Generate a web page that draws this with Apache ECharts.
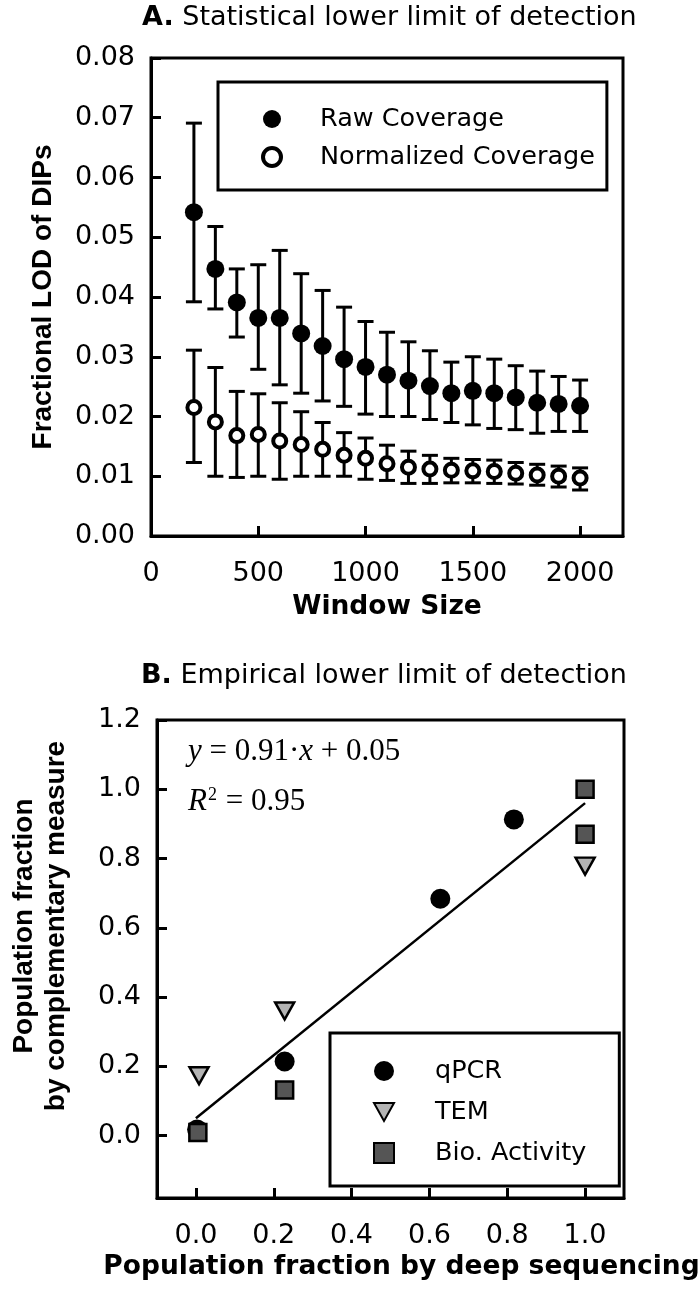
<!DOCTYPE html>
<html><head><meta charset="utf-8">
<script src="https://cdn.jsdelivr.net/npm/echarts@6/dist/echarts.min.js"></script>
<style>html,body{margin:0;padding:0;background:#fff}#c{width:700px;height:1292px}</style>
</head><body><div id="c"></div>
<script>
// ---------- Panel A data ----------
const windowSizes = [200,300,400,500,600,700,800,900,1000,1100,1200,1300,1400,1500,1600,1700,1800,1900,2000];
const rawMean = [0.0542,0.0447,0.0391,0.0365,0.0365,0.0339,0.0318,0.0296,0.0283,0.0270,0.0260,0.0251,0.0239,0.0243,0.0239,0.0232,0.0223,0.0221,0.0218];
const rawLow  = [0.0392,0.0380,0.0333,0.0279,0.0253,0.0239,0.0226,0.0217,0.0204,0.0200,0.0200,0.0195,0.0190,0.0186,0.0180,0.0178,0.0172,0.0175,0.0175];
const rawHigh = [0.0691,0.0518,0.0447,0.0454,0.0478,0.0439,0.0411,0.0383,0.0359,0.0341,0.0325,0.0310,0.0291,0.0300,0.0296,0.0285,0.0276,0.0267,0.0261];
const normMean = [0.0215,0.0191,0.0168,0.0170,0.0159,0.0153,0.0145,0.0135,0.0130,0.0121,0.0115,0.0112,0.0110,0.0109,0.0108,0.0105,0.0102,0.0100,0.0097];
const normLow  = [0.0123,0.0100,0.0098,0.0100,0.0095,0.0100,0.0100,0.0100,0.0095,0.0093,0.0088,0.0088,0.0089,0.0089,0.0088,0.0087,0.0085,0.0082,0.0077];
const normHigh = [0.0311,0.0282,0.0242,0.0238,0.0223,0.0208,0.0190,0.0173,0.0164,0.0152,0.0142,0.0135,0.0130,0.0128,0.0127,0.0123,0.0120,0.0117,0.0114];
const xTicksA = [0,500,1000,1500,2000];

// ---------- Panel B data ----------
const qpcrX = [0.003,0.228,0.628,0.817];
const qpcrY = [0.018,0.214,0.684,0.913];
const temX  = [0.008,0.228,1.0];
const temY  = [0.173,0.360,0.778];
const bioX  = [0.005,0.228,1.0,1.0];
const bioY  = [0.009,0.132,0.870,1.0];
const fitX  = [0.0,1.0];
const fitY  = [0.05,0.96];
const xTicksB = [0,0.2,0.4,0.6,0.8,1.0];
const yTicksB = [0,0.2,0.4,0.6,0.8,1.0,1.2];

const SANS = 'DejaVu Sans';
const ARIAL = 'Liberation Sans';
const SERIF = 'Liberation Serif';
const INK = '#000';
const DOWN_TRI = 'path://M0,0L20,0L10,18Z';
const SQUARE = 'path://M0,0L10,0L10,10L0,10Z';

function errBar(params, api) {
  const x = api.value(0), lo = api.value(1), hi = api.value(2);
  const a = api.coord([x, lo]), b = api.coord([x, hi]);
  const hw = 8, st = {stroke: INK, lineWidth: 3};
  return {type: 'group', children: [
    {type: 'line', shape: {x1: a[0], y1: a[1], x2: b[0], y2: b[1]}, style: st},
    {type: 'line', shape: {x1: b[0]-hw, y1: b[1], x2: b[0]+hw, y2: b[1]}, style: st},
    {type: 'line', shape: {x1: a[0]-hw, y1: a[1], x2: a[0]+hw, y2: a[1]}, style: st}
  ]};
}

const axisLineSt = {show: true, onZero: false, lineStyle: {color: INK, width: 3}};
const tickSt = {show: true, inside: true, length: 10, lineStyle: {color: INK, width: 3}};
const lblSt = {color: INK, fontFamily: SANS, fontSize: 27};

const chart = echarts.init(document.getElementById('c'), null, {renderer: 'canvas'});
chart.setOption({
  animation: false,
  backgroundColor: '#fff',
  title: [
    {text: '{b|A.} Statistical lower limit of detection', left: 142, top: 4, padding: 0,
     textStyle: {color: INK, fontFamily: SANS, fontSize: 27, fontWeight: 'normal',
       rich: {b: {fontFamily: SANS, fontSize: 27, fontWeight: 'bold', color: INK}}}},
    {text: '{b|B.} Empirical lower limit of detection', left: 141, top: 662, padding: 0,
     textStyle: {color: INK, fontFamily: SANS, fontSize: 27, fontWeight: 'normal',
       rich: {b: {fontFamily: SANS, fontSize: 27, fontWeight: 'bold', color: INK}}}}
  ],
  grid: [
    {left: 151, top: 58, width: 472, height: 478, show: true, borderColor: INK, borderWidth: 3, backgroundColor: 'transparent'},
    {left: 151, top: 720, width: 473, height: 478, show: true, borderColor: INK, borderWidth: 3, backgroundColor: 'transparent'}
  ],
  legend: [
    {data: ['Raw Coverage', 'Normalized Coverage'], orient: 'vertical', left: 218, top: 82,
     padding: [22, 12, 18, 43], itemWidth: 18, itemHeight: 18, itemGap: 8,
     borderColor: INK, borderWidth: 3, borderRadius: 0, selectedMode: false,
     itemStyle: {borderWidth: 'inherit'},
     textStyle: {color: INK, fontFamily: SANS, fontSize: 25.5, lineHeight: 30, padding: [0, 0, 0, 34]}},
    {data: ['qPCR', 'TEM', 'Bio. Activity'], orient: 'vertical', left: 330, top: 1033,
     padding: [23, 33, 18, 43], itemWidth: 20, itemHeight: 20, itemGap: 11,
     borderColor: INK, borderWidth: 3, borderRadius: 0, selectedMode: false,
     textStyle: {color: INK, fontFamily: SANS, fontSize: 25.5, lineHeight: 30, padding: [0, 0, 0, 36]}}
  ],
  xAxis: [
    {type: 'value', gridIndex: 0, min: 0, max: 2200, interval: 500,
     axisLine: axisLineSt, axisTick: Object.assign({}, tickSt, {customValues: xTicksA}),
     axisLabel: Object.assign({}, lblSt, {margin: 24, customValues: xTicksA, formatter: v => String(v)}),
     splitLine: {show: false},
     name: 'Window Size', nameLocation: 'middle', nameGap: 58,
     nameTextStyle: {color: INK, fontFamily: SANS, fontWeight: 'bold', fontSize: 26.5}},
    {type: 'value', gridIndex: 1, min: -0.1, max: 1.1,
     axisLine: axisLineSt, axisTick: Object.assign({}, tickSt, {customValues: xTicksB}),
     axisLabel: Object.assign({}, lblSt, {margin: 24, customValues: xTicksB, formatter: v => v.toFixed(1)}),
     splitLine: {show: false},
     name: 'Population fraction by deep sequencing', nameLocation: 'middle', nameGap: 56,
     nameTextStyle: {color: INK, fontFamily: SANS, fontWeight: 'bold', fontSize: 26.5, padding: [0, 0, 0, 22]}}
  ],
  yAxis: [
    {type: 'value', gridIndex: 0, min: 0, max: 0.08, interval: 0.01,
     axisLine: axisLineSt, axisTick: tickSt,
     axisLabel: Object.assign({}, lblSt, {margin: 16, formatter: v => v.toFixed(2)}),
     splitLine: {show: false},
     name: 'Fractional LOD of DIPs', nameLocation: 'middle', nameGap: 94,
     nameTextStyle: {color: INK, fontFamily: ARIAL, fontWeight: 'bold', fontSize: 28}},
    {type: 'value', gridIndex: 1, min: -0.18, max: 1.2,
     axisLine: axisLineSt, axisTick: Object.assign({}, tickSt, {customValues: yTicksB}),
     axisLabel: Object.assign({}, lblSt, {margin: 16, customValues: yTicksB, formatter: v => v.toFixed(1)}),
     splitLine: {show: false},
     name: 'Population fraction\nby complementary measure', nameLocation: 'middle', nameGap: 85,
     nameTextStyle: {color: INK, fontFamily: ARIAL, fontWeight: 'bold', fontSize: 28, lineHeight: 32, padding: [0, 0, 0, 66]}}
  ],
  graphic: [
    {type: 'text', left: 188, top: 736, z: 100,
     style: {text: '{i|y} = 0.91·{i|x} + 0.05', fill: INK, fontFamily: SERIF, fontSize: 31,
       rich: {i: {fontFamily: SERIF, fontStyle: 'italic', fontSize: 31, fill: INK}}}},
    {type: 'text', left: 188, top: 786, z: 100,
     style: {text: '{i|R}{s|2} = 0.95', fill: INK, fontFamily: SERIF, fontSize: 31,
       rich: {i: {fontFamily: SERIF, fontStyle: 'italic', fontSize: 31, fill: INK},
              s: {fontFamily: SERIF, fontSize: 18, fill: INK, padding: [0, 1, 14, 1]}}}}
  ],
  series: [
    {type: 'custom', name: 'rawErr', xAxisIndex: 0, yAxisIndex: 0, renderItem: errBar, z: 2,
     encode: {x: 0, y: [1, 2]}, data: windowSizes.map((x, i) => [x, rawLow[i], rawHigh[i]])},
    {type: 'custom', name: 'normErr', xAxisIndex: 0, yAxisIndex: 0, renderItem: errBar, z: 2,
     encode: {x: 0, y: [1, 2]}, data: windowSizes.map((x, i) => [x, normLow[i], normHigh[i]])},
    {type: 'scatter', name: 'Raw Coverage', xAxisIndex: 0, yAxisIndex: 0, z: 5,
     symbol: 'circle', symbolSize: 18, itemStyle: {color: INK, opacity: 1},
     data: windowSizes.map((x, i) => [x, rawMean[i]])},
    {type: 'scatter', name: 'Normalized Coverage', xAxisIndex: 0, yAxisIndex: 0, z: 5,
     symbol: 'circle', symbolSize: 13, itemStyle: {color: '#fff', borderColor: INK, borderWidth: 4, opacity: 1},
     data: windowSizes.map((x, i) => [x, normMean[i]])},
    {type: 'line', name: 'fit', xAxisIndex: 1, yAxisIndex: 1, z: 2, showSymbol: false, symbol: 'none',
     lineStyle: {color: INK, width: 2.5}, data: fitX.map((x, i) => [x, fitY[i]])},
    {type: 'scatter', name: 'qPCR', xAxisIndex: 1, yAxisIndex: 1, z: 4,
     symbol: 'circle', symbolSize: 20, itemStyle: {color: INK, opacity: 1},
     data: qpcrX.map((x, i) => [x, qpcrY[i]])},
    {type: 'scatter', name: 'TEM', xAxisIndex: 1, yAxisIndex: 1, z: 5,
     symbol: DOWN_TRI, symbolSize: [19, 17],
     itemStyle: {color: '#b3b3b3', borderColor: INK, borderWidth: 2.5, opacity: 1},
     data: temX.map((x, i) => [x, temY[i]])},
    {type: 'scatter', name: 'Bio. Activity', xAxisIndex: 1, yAxisIndex: 1, z: 6,
     symbol: SQUARE, symbolSize: 17,
     itemStyle: {color: '#555', borderColor: INK, borderWidth: 2.5, opacity: 1},
     data: bioX.map((x, i) => [x, bioY[i]])}
  ]
});
</script></body></html>
